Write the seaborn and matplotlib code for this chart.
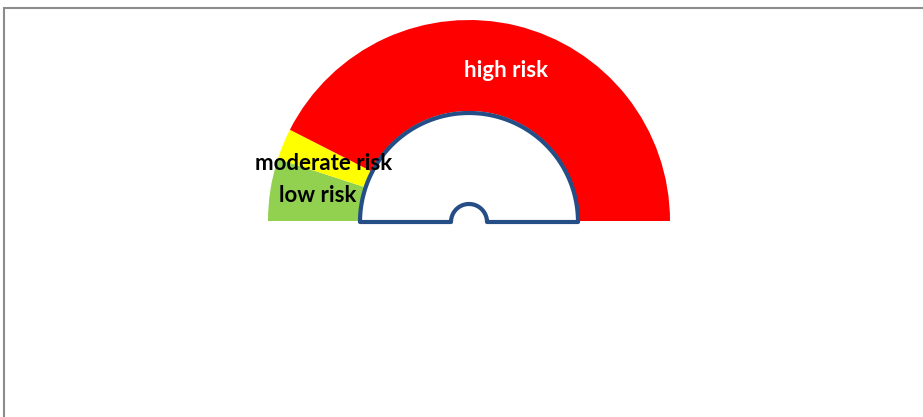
import numpy as np
import matplotlib
matplotlib.use("Agg")
import matplotlib.pyplot as plt
import seaborn as sns
from matplotlib.patches import Polygon, Rectangle

# Data: gauge bands (percent of the half circle)
categories = ["low risk", "moderate risk", "high risk"]
values = [10, 5, 85]
colors = ["#92D050", "#FFFF00", "#FF0000"]
label_colors = ["black", "black", "white"]

sns.set_theme(style="white")
plt.rcParams["font.family"] = ["Lato", "DejaVu Sans"]

W, H = 923, 417
fig = plt.figure(figsize=(W / 100, H / 100), dpi=100)
ax = fig.add_axes([0, 0, 1, 1])

# gauge geometry in pixel units (y up)
cx, cy = 469, H - 221
r_out, r_in = 201, 110

# pie: the bands plus a hidden bottom half
ax.pie(values + [sum(values)], colors=colors + ["none"], startangle=180,
       counterclock=False, center=(cx, cy), radius=r_out,
       wedgeprops=dict(width=r_out - r_in, linewidth=0))

# inner dial (white half disc with needle pivot bump)
r_d, r_b = 109, 18
t_big = np.linspace(np.pi, 0, 200)
t_small = np.linspace(0, np.pi, 60)
pts = [(cx + r_d * np.cos(t), cy - 1 + r_d * np.sin(t)) for t in t_big]
pts += [(cx + r_b * np.cos(t), cy - 1 + r_b * np.sin(t)) for t in t_small]
ax.add_patch(Polygon(pts, closed=True, facecolor="white", edgecolor="#264E86",
                     linewidth=3, joinstyle="round", zorder=3))

# labels
label_pos = [(318, 195), (324, 163), (506, 70)]
for name, (px, py), c in zip(categories, label_pos, label_colors):
    ax.text(px, H - py, name, ha="center", va="center", color=c,
            fontsize=16, fontweight="bold", zorder=5)

ax.set_xlim(0, W)
ax.set_ylim(0, H)
ax.set_aspect("equal")
ax.axis("off")

# outer chart frame (only top and left visible)
fig.patches.append(Rectangle((4 / W, -0.2), 1.2, (H - 8) / H + 0.2,
                             transform=fig.transFigure, fill=False,
                             edgecolor="#8C8C8C", linewidth=1.5))

fig.savefig("out.png", dpi=100)
